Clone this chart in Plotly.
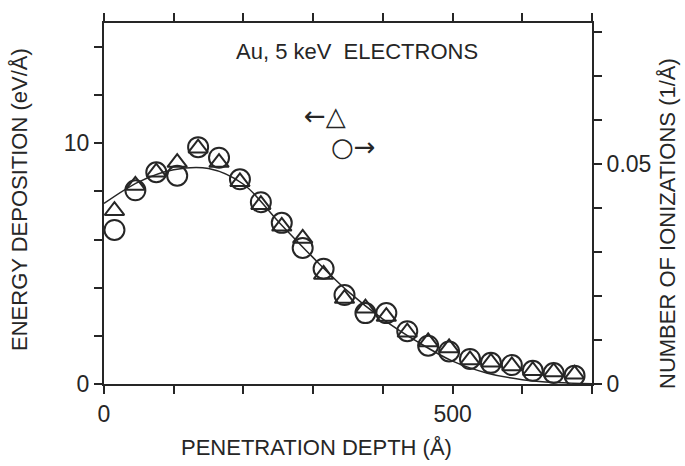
import plotly.graph_objects as go

# Penetration depth of the sampled bins (Angstrom)
depth = [15, 45, 75, 105, 135, 165, 195, 225, 255, 285, 315, 345,
         375, 405, 435, 465, 495, 525, 555, 585, 615, 645, 675]

# Energy deposition per unit depth (eV/Angstrom), left axis
energy = [7.2, 8.25, 8.8, 9.2, 9.8, 9.2, 8.4, 7.45, 6.55, 6.05, 4.55, 3.55,
          3.15, 2.8, 2.15, 1.75, 1.5, 1.0, 0.9, 0.75, 0.55, 0.5, 0.4]

# Number of ionizations per unit depth (1/Angstrom), right axis
ionization = [0.0350, 0.0440, 0.0481, 0.0473, 0.0538, 0.0514, 0.0465, 0.0413,
              0.0366, 0.0309, 0.0262, 0.0202, 0.0161, 0.0161, 0.0120, 0.0087,
              0.0074, 0.0057, 0.0048, 0.0043, 0.0030, 0.0025, 0.0019]

# Smooth fitted energy-deposition profile
curve_x = [0, 50, 100, 150, 200, 250, 300, 350, 400, 450, 500, 550, 600, 650, 700]
curve_y = [7.5, 8.4, 8.9, 8.95, 8.3, 6.75, 5.25, 3.85, 2.7, 1.75, 0.95, 0.45, 0.18, 0.06, 0.01]

# Axis ticks
x_ticks = [0, 100, 200, 300, 400, 500, 600, 700]
x_labels = ["0", "", "", "", "", "500", "", ""]
y_ticks = [0, 2, 4, 6, 8, 10, 12, 14]
y_labels = ["0", "", "", "", "", "10", "", ""]
y2_ticks = [0, 0.01, 0.02, 0.03, 0.04, 0.05, 0.06, 0.07, 0.08]
y2_labels = ["0", "", "", "", "", "0.05", "", "", ""]

INK = "#262626"
FONT = "Liberation Sans"

fig = go.Figure()

fig.add_trace(go.Scatter(
    x=curve_x, y=curve_y, mode="lines",
    line=dict(color=INK, width=1.5, shape="spline", smoothing=1.0),
    hoverinfo="skip", showlegend=False,
))

fig.add_trace(go.Scatter(
    x=depth, y=energy, mode="markers", name="Energy deposition",
    marker=dict(symbol="triangle-up-open", size=17, color=INK,
                line=dict(color=INK, width=2)),
    showlegend=False,
))

fig.add_trace(go.Scatter(
    x=depth, y=ionization, mode="markers", name="Ionizations", yaxis="y2",
    marker=dict(symbol="circle-open", size=20, color=INK,
                line=dict(color=INK, width=2)),
    showlegend=False,
))

axis_common = dict(
    showline=True, linewidth=2, linecolor=INK,
    ticks="outside", ticklen=8, tickwidth=2, tickcolor=INK,
    showgrid=False, zeroline=False,
    tickfont=dict(family=FONT, size=23, color=INK),
)

fig.update_layout(
    width=685, height=466,
    margin=dict(l=104, r=93, t=23, b=82),
    paper_bgcolor="white", plot_bgcolor="white",
    xaxis=dict(range=[0, 700], tickmode="array", tickvals=x_ticks,
               ticktext=x_labels, mirror="ticks", **axis_common),
    yaxis=dict(range=[0, 15], tickmode="array", tickvals=y_ticks,
               ticktext=y_labels, **axis_common),
    yaxis2=dict(range=[0, 0.082], tickmode="array", tickvals=y2_ticks,
                ticktext=y2_labels, overlaying="y", side="right",
                **axis_common),
)

text_font = dict(family=FONT, size=22, color=INK)

annotations = [
    dict(text="ENERGY DEPOSITION (eV/Å)", x=-0.172, y=0.51, textangle=-90),
    dict(text="NUMBER OF IONIZATIONS (1/Å)", x=1.155, y=0.445, textangle=-90),
    dict(text="PENETRATION DEPTH (Å)", x=0.436, y=-0.177, textangle=0),
    dict(text="Au, 5 keV  ELECTRONS", x=0.518, y=0.92, textangle=0),
]
for a in annotations:
    fig.add_annotation(xref="paper", yref="paper", showarrow=False,
                       xanchor="center", yanchor="middle", font=text_font, **a)

# Key: arrows pointing to the axis each symbol belongs to
fig.add_annotation(text="←△", x=0.453, y=0.789, xref="paper", yref="paper",
                   showarrow=False, font=dict(family="DejaVu Sans", size=26, color=INK))
fig.add_annotation(text="○→", x=0.51, y=0.704, xref="paper", yref="paper",
                   showarrow=False, font=dict(family="DejaVu Sans", size=26, color=INK))

fig.write_html("out.html")
